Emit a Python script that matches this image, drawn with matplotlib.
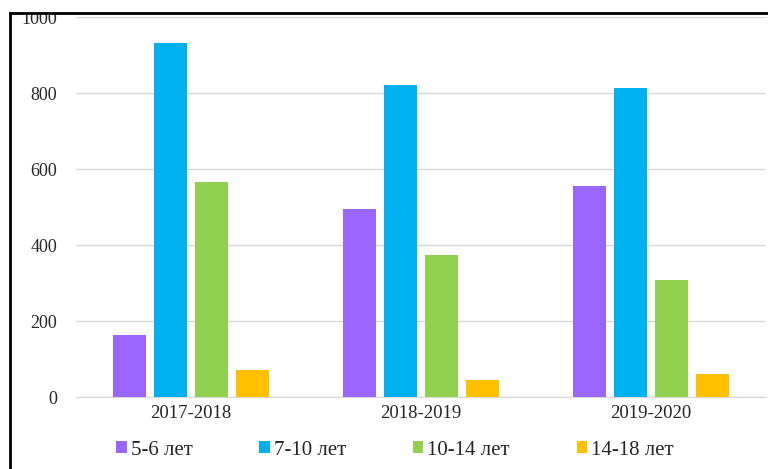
import numpy as np
import matplotlib.pyplot as plt
from matplotlib.lines import Line2D
from matplotlib.patches import Patch, Rectangle

plt.rcParams['font.family'] = ['Liberation Serif', 'DejaVu Serif']

# data
years = ["2017-2018", "2018-2019", "2019-2020"]
groups = ["5-6 лет", "7-10 лет", "10-14 лет", "14-18 лет"]
age_5_6 = [163, 494, 555]
age_7_10 = [932, 821, 813]
age_10_14 = [567, 374, 308]
age_14_18 = [71, 45, 60]
colors = ["#9966ff", "#00b0f0", "#92d050", "#ffc000"]

series = [age_5_6, age_7_10, age_10_14, age_14_18]

fig = plt.figure(figsize=(7.68, 4.69), dpi=100)
ax = fig.add_axes([76 / 768, 72 / 469, 690 / 768, 380 / 469])

x = np.arange(len(years))
width = 0.1435
step = 0.178
for i, vals in enumerate(series):
    ax.bar(x + (i - 1.5) * step, vals, width, color=colors[i], zorder=3)

ax.set_xlim(-0.5, len(years) - 0.5)
ax.set_ylim(0, 1000)
ax.set_yticks(range(0, 1001, 200))
ax.set_xticks(x)
ax.set_xticklabels(years)
ax.yaxis.grid(True, color="#d9d9d9", linewidth=1)
for s in ["top", "right", "left"]:
    ax.spines[s].set_visible(False)
ax.spines["bottom"].set_color("#d9d9d9")
ax.tick_params(axis="both", length=0, labelsize=13.5, colors="#262626")
ax.tick_params(axis="y", labelsize=13, pad=13.5)
ax.tick_params(axis="x", pad=6)

handles = [Patch(facecolor=c) for c in colors]
fig.legend(handles, groups, loc="center", bbox_to_anchor=(395 / 768, 19 / 469),
           ncol=4, frameon=False, fontsize=15, handlelength=0.5, handleheight=0.5,
           handletextpad=0.2, columnspacing=3.2, borderaxespad=0,
           labelcolor="#262626")

# cropped frame of the original screenshot
fig.add_artist(Rectangle((0, 456 / 469), 1, 13 / 469, transform=fig.transFigure,
                         facecolor="white", edgecolor="none", zorder=10))
fig.add_artist(Line2D([10 / 768, 1], [456 / 469, 456 / 469], transform=fig.transFigure,
                      color="black", linewidth=2, zorder=11))
fig.add_artist(Line2D([10 / 768, 10 / 768], [0, 456 / 469], transform=fig.transFigure,
                      color="black", linewidth=2, zorder=11))

fig.savefig("out.png", dpi=100)
